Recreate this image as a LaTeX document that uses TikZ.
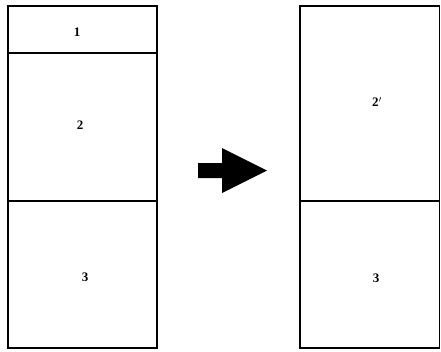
\documentclass[tikz,border=0pt]{standalone}
\usepackage{fontspec}
\setmainfont{Liberation Serif}
\begin{document}
\begin{tikzpicture}[x=1pt,y=-1pt,line width=1.3pt]
\tikzset{lbl/.style={font=\bfseries\fontsize{13}{14}\selectfont,inner sep=0pt}}
\useasboundingbox (0,0) rectangle (441,351);
% left column
\draw (8,6) rectangle (157,348);
\draw (8,53) -- (157,53);
\draw (8,201) -- (157,201);
\node[lbl] (one) at (77,32) {1};
\node[lbl] (two) at (80,125) {2};
\node[lbl] (three) at (85,277) {3};
% arrow
\fill (198,163) -- (222,163) -- (222,148) -- (267,170.5) -- (222,193) -- (222,178) -- (198,178) -- cycle;
% right column
\draw (300,6) rectangle (439.5,348);
\draw (300,201) -- (439.5,201);
\node[lbl] (twop) at (377,102) {2$'$};
\node[lbl] (threep) at (376,278) {3};
\end{tikzpicture}
\end{document}
